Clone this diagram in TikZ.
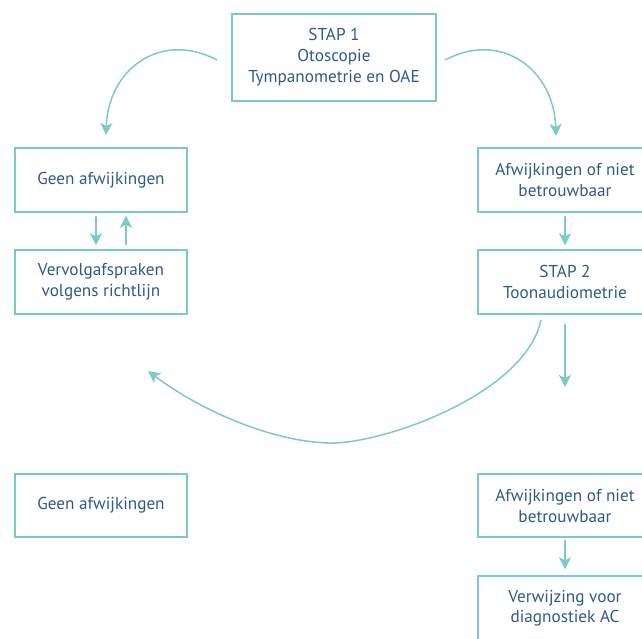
\documentclass[tikz,border=0pt]{standalone}
\usepackage{fontspec}
\setmainfont{PT Sans}
\usetikzlibrary{arrows.meta}
\definecolor{teal1}{HTML}{7CCAC6}
\definecolor{txtblue}{HTML}{2E5A8A}
\begin{document}
\begin{tikzpicture}[x=1pt,y=-1pt,
  box/.style={draw=teal1,line width=1.4pt,rectangle,minimum width=172pt,minimum height=64pt,
    align=center,text=txtblue,font=\fontsize{17.2}{21}\selectfont,inner sep=0pt},
  conn/.style={draw=teal1,line width=1.5pt,-{Stealth[length=12pt,width=12pt,inset=3pt]}}]
\useasboundingbox (0,0) rectangle (642,638);
\clip (0,0) rectangle (642,638);
\node[box,minimum width=204pt,minimum height=87pt] (top) at (334,57.5) {STAP 1\\Otoscopie\\Tympanometrie en OAE};
\node[box] (g1) at (101,180) {Geen afwijkingen};
\node[box] (v1) at (101,282) {Vervolgafspraken\\volgens richtlijn};
\node[box,minimum width=174pt] (a1) at (565,180) {Afwijkingen of niet\\betrouwbaar};
\node[box,minimum width=174pt] (s2) at (565,282) {STAP 2\\Toonaudiometrie};
\node[box,minimum height=63pt] (g2) at (101,505.5) {Geen afwijkingen};
\node[box,minimum width=174pt,minimum height=63pt] (a2) at (565,505.5) {Afwijkingen of niet\\betrouwbaar};
\node[box,minimum width=174pt,minimum height=64pt] (d2) at (565,608) {\raisebox{9pt}{\begin{tabular}{@{}c@{}}Verwijzing voor\\[-1pt]diagnostiek AC\end{tabular}}};
% free-end coordinates
\coordinate (ls) at (217,60);
\coordinate (lt) at (106,135);
\coordinate (rs) at (445,60);
\coordinate (rt) at (556,136);
\coordinate (bs) at (541,320);
\coordinate (bm) at (328,443);
\coordinate (bt) at (148,371);
\coordinate (st) at (565,387);
% arcs from STAP 1
\draw[conn] (ls) .. controls (160,30) and (108,70) .. (lt);
\draw[conn] (rs) .. controls (502,30) and (554,70) .. (rt);
% small arrows left
\draw[conn,shorten <=3pt,shorten >=4pt] ([xshift=-5pt]g1.south) -- ([xshift=-5pt]v1.north);
\draw[conn,shorten <=4pt,shorten >=3pt] ([xshift=25pt]v1.north) -- ([xshift=25pt]g1.south);
% right arrows
\draw[conn,shorten <=3pt,shorten >=4pt] (a1.south) -- (s2.north);
\draw[conn,shorten <=9pt] (s2.south) -- (st);
\draw[conn,shorten <=2pt,shorten >=6pt] (a2.south) -- (d2.north);
% big curve from STAP 2
\draw[conn] (bs) .. controls (525,395) and (380,445) .. (bm) .. controls (270,441) and (200,410) .. (bt);
\end{tikzpicture}
\end{document}
